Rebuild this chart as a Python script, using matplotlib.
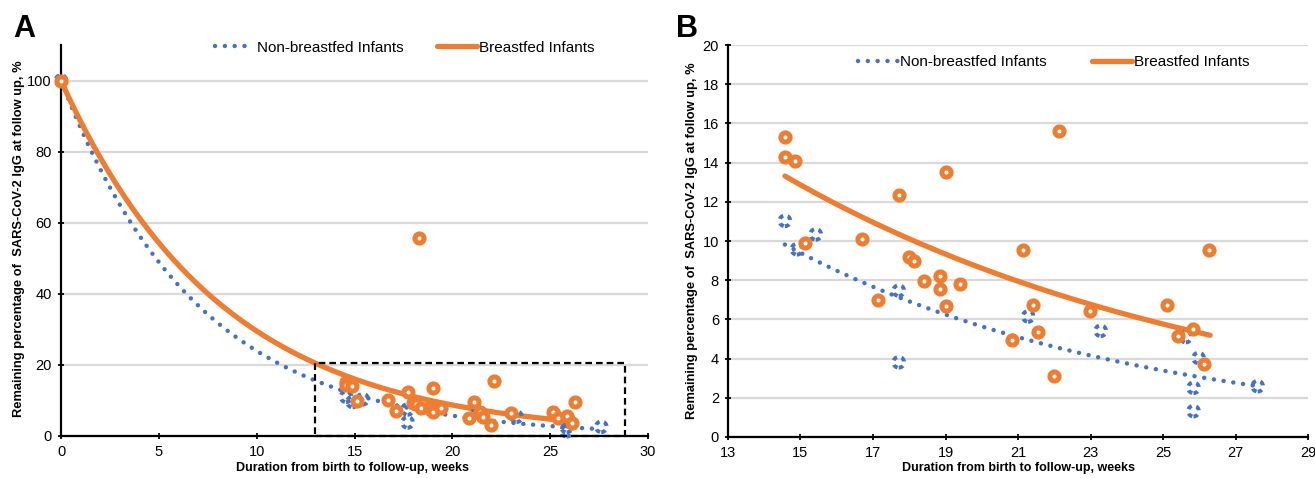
import numpy as np
import matplotlib
matplotlib.use("Agg")
import matplotlib.pyplot as plt
from matplotlib.lines import Line2D
from matplotlib.patches import Rectangle

plt.rcParams["font.family"] = ["Liberation Sans", "DejaVu Sans"]

BLUE = "#4472C4"
ORANGE = "#ED7D31"
GRID = "#D9D9D9"

# non-breastfed infants: weeks from birth, remaining IgG (%)
nb_weeks = [0, 14.57, 14.90, 15.42, 17.71, 17.71, 21.28, 23.28, 25.63, 25.98, 25.84, 25.84, 27.61]
nb_pct = [100, 11.03, 9.58, 10.34, 7.47, 3.81, 6.15, 5.42, 5.10, 4.03, 2.51, 1.32, 2.59]

# breastfed infants
bf_weeks = [0, 14.57, 14.57, 14.85, 15.13, 16.70, 17.13, 17.71, 17.99, 18.13, 18.28, 18.42,
            18.85, 18.85, 19.00, 19.00, 19.41, 20.84, 21.13, 21.42, 21.56, 22.00, 22.13,
            22.99, 25.12, 25.41, 25.84, 26.13, 26.28]
bf_pct = [100, 15.32, 14.29, 14.08, 9.92, 10.12, 6.98, 12.37, 9.20, 9.00, 55.7, 7.95,
          8.24, 7.53, 13.54, 6.69, 7.81, 4.97, 9.53, 6.76, 5.34, 3.10, 15.59,
          6.42, 6.76, 5.14, 5.53, 3.71, 9.53]

# exponential trendlines y = a * exp(b * x), coefficients
trend_a = {"nb": (100.0, -0.143, 0.0, 27.6), "bf": (100.0, -0.122, 0.0, 26.3)}
trend_b = {"nb": (43.4, -0.102, 14.57, 27.6), "bf": (42.9, -0.0803, 14.57, 26.3)}

LEG_NB = "Non-breastfed Infants"
LEG_BF = "Breastfed Infants"
XLABEL = "Duration from birth to follow-up, weeks"
YLABEL = "Remaining percentage of  SARS-CoV-2 IgG at follow up, %"

NB_DOTS = (0, (0.01, 2.2))


def trend(params):
    a, b, x0, x1 = params
    xs = np.linspace(x0, x1, 200)
    return xs, a * np.exp(b * xs)


def style_axes(ax):
    for side in ("top", "right"):
        ax.spines[side].set_visible(False)
    for side in ("left", "bottom"):
        ax.spines[side].set_linewidth(1.6)
        ax.spines[side].set_color("black")
    ax.grid(axis="y", color=GRID, linewidth=1.6)
    ax.set_axisbelow(True)
    ax.tick_params(direction="inout", length=5, width=1.3, labelsize=10.5, pad=4)


def draw_panel(ax, trends, clip):
    xs, ys = trend(trends["nb"])
    ax.plot(xs, ys, color=BLUE, linewidth=3.2, linestyle=NB_DOTS,
            dash_capstyle="round", zorder=3)
    xs, ys = trend(trends["bf"])
    ax.plot(xs, ys, color=ORANGE, linewidth=3.8, solid_capstyle="round", zorder=4)
    ax.scatter(nb_weeks, nb_pct, s=60, facecolors="none", edgecolors=BLUE,
               linewidths=2.8, linestyles=(0, (1.2, 1.2)), zorder=5, clip_on=clip)
    ax.plot(bf_weeks, bf_pct, linestyle="none", marker="o", markersize=6.6,
            markerfacecolor="white", markeredgecolor=ORANGE, markeredgewidth=3.6,
            zorder=6, clip_on=clip)

    handles = [
        Line2D([], [], color=BLUE, linewidth=3.2, linestyle=NB_DOTS,
               dash_capstyle="round"),
        Line2D([], [], color=ORANGE, linewidth=3.8, solid_capstyle="round"),
    ]
    return handles


fig = plt.figure(figsize=(13.15, 4.78), dpi=100)

# panel A
axA = fig.add_axes([0.0464, 0.0879, 0.4464, 0.818])
style_axes(axA)
hA = draw_panel(axA, trend_a, clip=False)
axA.set_xlim(0, 30)
axA.set_ylim(0, 110)
axA.set_xticks(range(0, 31, 5))
axA.set_yticks(range(0, 101, 20))
axA.add_patch(Rectangle((13, 0), 15.8, 20.6, fill=False, edgecolor="black",
                        linewidth=1.6, linestyle=(0, (3, 1.8)), zorder=7, clip_on=False))
axA.legend(hA, [LEG_NB, LEG_BF], loc="center", bbox_to_anchor=(0.585, 0.993), ncol=2,
           frameon=False, fontsize=11, handlelength=2.6, handletextpad=0.15,
           columnspacing=2.2, borderaxespad=0)
axA.set_xlabel(XLABEL, fontsize=9, fontweight="bold")
axA.xaxis.set_label_coords(0.496, -0.066)
axA.set_ylabel(YLABEL, fontsize=9.3, fontweight="bold")
axA.yaxis.set_label_coords(-0.062, 0.504)

# panel B
axB = fig.add_axes([0.5536, 0.0858, 0.4411, 0.820])
style_axes(axB)
hB = draw_panel(axB, trend_b, clip=True)
axB.set_xlim(13, 29)
axB.set_ylim(0, 20)
axB.set_xticks(range(13, 30, 2))
axB.set_yticks(range(0, 21, 2))
axB.legend(hB, [LEG_NB, LEG_BF], loc="center", bbox_to_anchor=(0.562, 0.956), ncol=2,
           frameon=False, fontsize=11, handlelength=2.6, handletextpad=0.15,
           columnspacing=3.0, borderaxespad=0)
axB.set_xlabel(XLABEL, fontsize=9, fontweight="bold")
axB.xaxis.set_label_coords(0.5, -0.064)
axB.set_ylabel(YLABEL, fontsize=9.3, fontweight="bold")
axB.yaxis.set_label_coords(-0.052, 0.50)

fig.text(0.010, 0.922, "A", fontsize=22, fontweight="bold")
fig.text(0.514, 0.922, "B", fontsize=22, fontweight="bold")

fig.savefig("out.png", dpi=100)
